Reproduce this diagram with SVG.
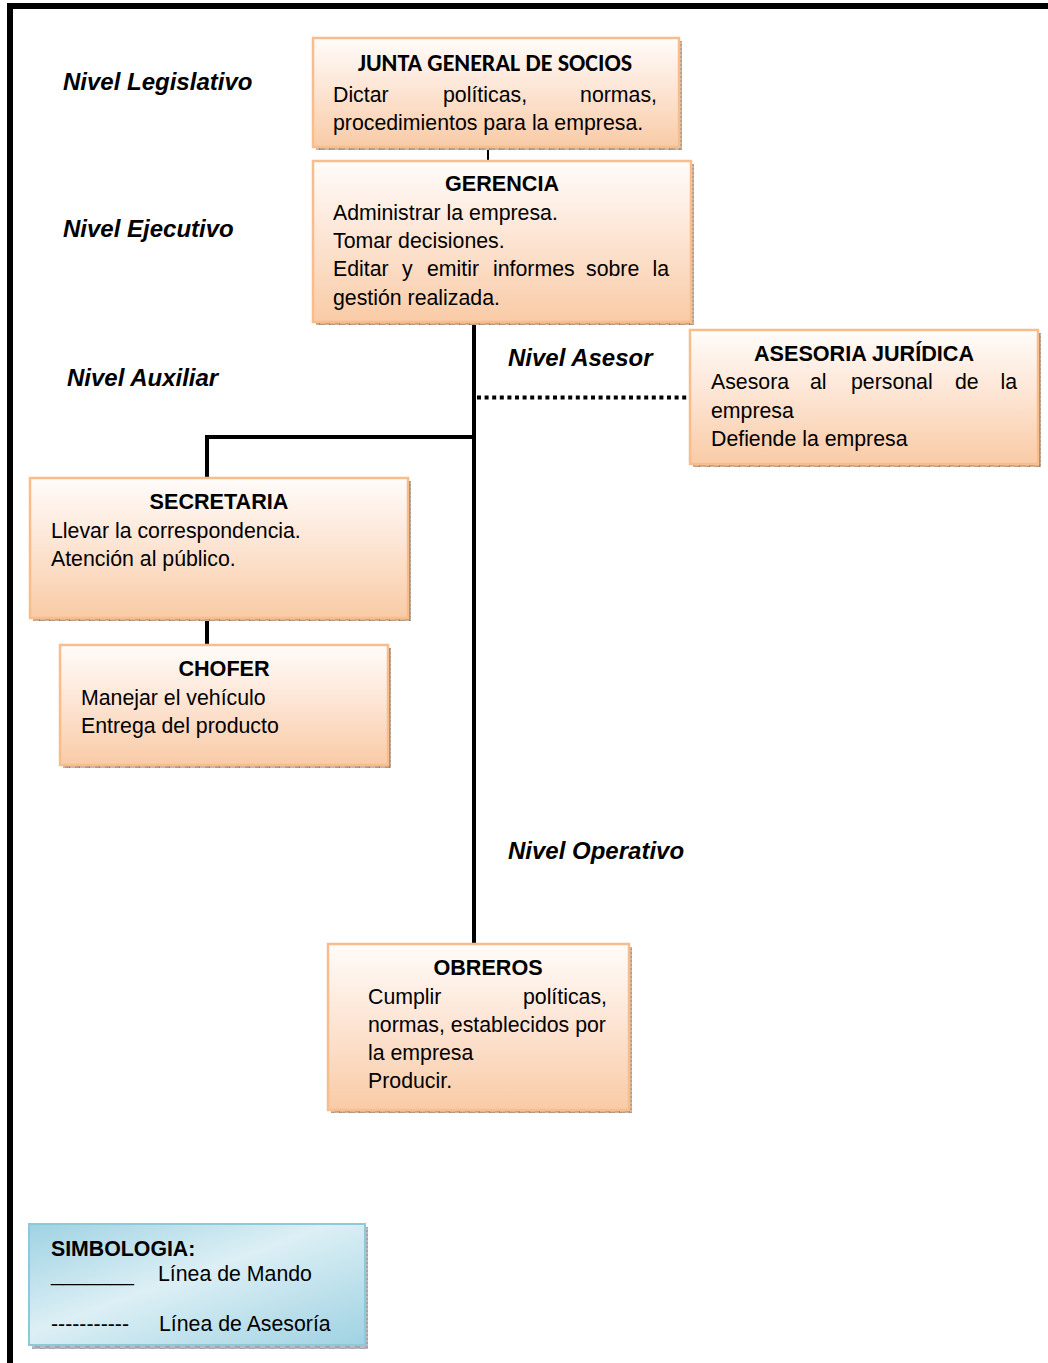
<svg xmlns="http://www.w3.org/2000/svg" width="1048" height="1363" viewBox="0 0 1048 1363">
<defs>
<linearGradient id="gOr" x1="0" y1="0" x2="0" y2="1">
<stop offset="0" stop-color="#fffcfa"/>
<stop offset="0.45" stop-color="#fde6d6"/>
<stop offset="1" stop-color="#f9cba6"/>
</linearGradient>
<linearGradient id="gBl" x1="0" y1="0" x2="1" y2="1">
<stop offset="0" stop-color="#9fd2e2"/>
<stop offset="0.45" stop-color="#dceff5"/>
<stop offset="1" stop-color="#9fd2e2"/>
</linearGradient>
<pattern id="shd" width="10" height="4" patternUnits="userSpaceOnUse">
<rect width="10" height="4" fill="#c9b6a4"/>
<rect x="0" y="0" width="5" height="2" fill="#b39c88"/>
<rect x="5" y="2" width="5" height="2" fill="#b39c88"/>
<rect x="9" y="0" width="1" height="4" fill="#9c7f66"/>
</pattern>
<pattern id="shdB" width="10" height="4" patternUnits="userSpaceOnUse">
<rect width="10" height="4" fill="#b9bcc0"/>
<rect x="0" y="0" width="5" height="2" fill="#a2a6aa"/>
<rect x="5" y="2" width="5" height="2" fill="#a2a6aa"/>
</pattern>
</defs>
<style>
.box{fill:url(#gOr);stroke:#f8bd8c;stroke-width:2.5}
.bbox{fill:url(#gBl);stroke:#8cc9da;stroke-width:2}
.sh{fill:url(#shd)}
.shb{fill:url(#shdB)}
text{font-family:"Liberation Sans",Arial,sans-serif;fill:#000}
.t{font-size:21.6px;font-weight:bold;text-anchor:middle}
.tc{font-family:"Carlito","Open Sans","Liberation Sans",sans-serif;font-size:24px;font-weight:bold;text-anchor:middle}
.b{font-size:21.3px}
.e{text-anchor:end}
.lv{font-size:24px;font-weight:bold;font-style:italic}
.ln{stroke:#000;stroke-width:4;fill:none}
</style>

<g id="frame">
<rect x="7" y="3" width="1041" height="6" fill="#000"/>
<rect x="7" y="3" width="6" height="1360" fill="#000"/>
</g>

<g id="levels">
<text class="lv" x="63" y="90">Nivel Legislativo</text>
<text class="lv" x="63" y="237">Nivel Ejecutivo</text>
<text class="lv" x="67" y="386">Nivel Auxiliar</text>
<text class="lv" x="508" y="366">Nivel Asesor</text>
<text class="lv" x="508" y="859">Nivel Operativo</text>
</g>

<g id="connectors">
<line x1="488" y1="146" x2="488" y2="162" stroke="#000" stroke-width="2"/>
<line class="ln" x1="474" y1="322" x2="474" y2="944"/>
<polyline class="ln" points="474,437 207,437 207,478"/>
<line class="ln" x1="207" y1="617" x2="207" y2="646"/>
<line x1="477" y1="397.5" x2="688" y2="397.5" stroke="#000" stroke-width="4" stroke-dasharray="4,3.6"/>
</g>

<g id="junta">
<rect class="sh" x="316" y="41" width="366" height="109"/>
<rect class="box" x="313" y="38" width="366" height="109"/>
<text class="tc" x="495" y="71">JUNTA GENERAL DE SOCIOS</text>
<text class="b" x="333" y="102">Dictar</text>
<text class="b" x="443" y="102">políticas,</text>
<text class="b e" x="657" y="102">normas,</text>
<text class="b" x="333" y="130">procedimientos para la empresa.</text>
</g>

<g id="gerencia">
<rect class="sh" x="316" y="164" width="378" height="161"/>
<rect class="box" x="313" y="161" width="378" height="161"/>
<text class="t" x="502" y="191">GERENCIA</text>
<text class="b" x="333" y="220">Administrar la empresa.</text>
<text class="b" x="333" y="248">Tomar decisiones.</text>
<text class="b" x="333" y="276">Editar</text>
<text class="b" x="402" y="276">y</text>
<text class="b" x="427" y="276">emitir</text>
<text class="b" x="493" y="276">informes</text>
<text class="b" x="586" y="276">sobre</text>
<text class="b e" x="669" y="276">la</text>
<text class="b" x="333" y="305">gestión realizada.</text>
</g>

<g id="asesoria">
<rect class="sh" x="693" y="333" width="348" height="134"/>
<rect class="box" x="690" y="330" width="348" height="134"/>
<text class="t" x="864" y="361">ASESORIA JURÍDICA</text>
<text class="b" x="711" y="389">Asesora</text>
<text class="b" x="810" y="389">al</text>
<text class="b" x="851" y="389">personal</text>
<text class="b" x="955" y="389">de</text>
<text class="b e" x="1017" y="389">la</text>
<text class="b" x="711" y="418">empresa</text>
<text class="b" x="711" y="446">Defiende la empresa</text>
</g>

<g id="secretaria">
<rect class="sh" x="33" y="481" width="378" height="140"/>
<rect class="box" x="30" y="478" width="378" height="140"/>
<text class="t" x="219" y="509">SECRETARIA</text>
<text class="b" x="51" y="538">Llevar la correspondencia.</text>
<text class="b" x="51" y="566">Atención al público.</text>
</g>

<g id="chofer">
<rect class="sh" x="63" y="648" width="328" height="120"/>
<rect class="box" x="60" y="645" width="328" height="120"/>
<text class="t" x="224" y="676">CHOFER</text>
<text class="b" x="81" y="705">Manejar el vehículo</text>
<text class="b" x="81" y="733">Entrega del producto</text>
</g>

<g id="obreros">
<rect class="sh" x="331" y="947" width="301" height="166"/>
<rect class="box" x="328" y="944" width="301" height="166"/>
<text class="t" x="488" y="975">OBREROS</text>
<text class="b" x="368" y="1004">Cumplir</text>
<text class="b e" x="607" y="1004">políticas,</text>
<text class="b" x="368" y="1032">normas, establecidos por</text>
<text class="b" x="368" y="1060">la empresa</text>
<text class="b" x="368" y="1088">Producir.</text>
</g>

<g id="simbologia">
<rect class="shb" x="32" y="1227" width="336" height="122"/>
<rect class="bbox" x="29" y="1224" width="336" height="121"/>
<text class="b" x="51" y="1256" font-weight="bold">SIMBOLOGIA:</text>
<text class="b" x="51" y="1281">_______</text>
<text class="b" x="158" y="1281">Línea de Mando</text>
<text class="b" x="51" y="1331">-----------</text>
<text class="b" x="159" y="1331">Línea de Asesoría</text>
</g>
</svg>
